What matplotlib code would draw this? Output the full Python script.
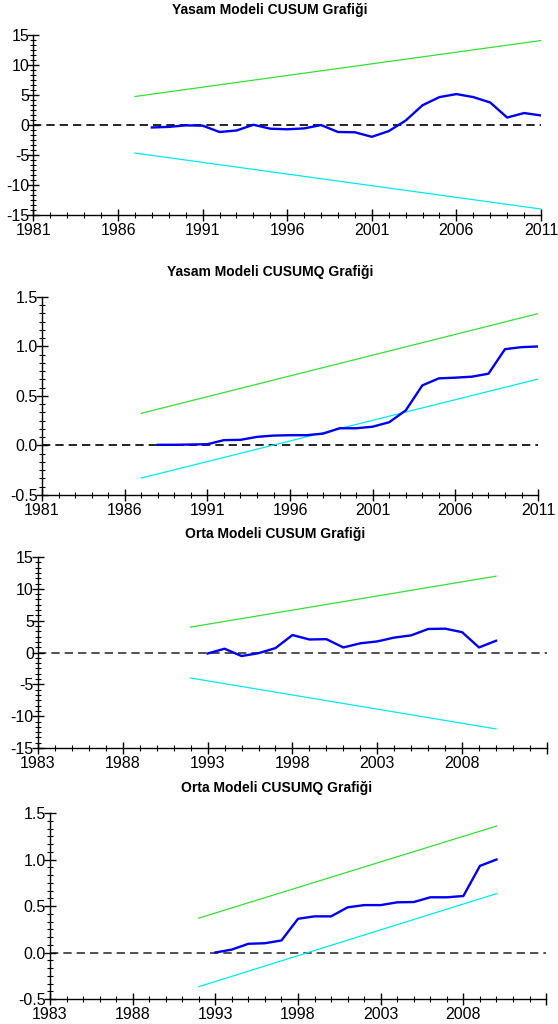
import matplotlib
matplotlib.use("Agg")
import matplotlib.pyplot as plt
from matplotlib.ticker import MultipleLocator, AutoMinorLocator

plt.rcParams['font.family'] = ['Liberation Sans Narrow', 'Liberation Sans', 'DejaVu Sans']

# ---- data ----
yasam_years = list(range(1988, 2012))
yasam_cusum = [-0.45, -0.35, -0.1, -0.15, -1.2, -0.95, 0.0, -0.65, -0.75, -0.6, -0.05, -1.2,
               -1.25, -2.0, -1.05, 0.7, 3.25, 4.6, 5.1, 4.6, 3.7, 1.2, 1.95, 1.55]
yasam_cusumq = [0.007, 0.007, 0.01, 0.013, 0.054, 0.057, 0.087, 0.1, 0.104, 0.104, 0.12, 0.174,
                0.174, 0.19, 0.235, 0.355, 0.607, 0.678, 0.685, 0.695, 0.725, 0.973, 0.993, 1.0]
yasam_band_years = [1987, 2011]
yasam_cusum_up = [4.7, 14.0]
yasam_cusum_lo = [-4.7, -14.0]
yasam_cusumq_up = [0.325, 1.332]
yasam_cusumq_lo = [-0.329, 0.671]

orta_years = list(range(1993, 2011))
orta_cusum = [-0.15, 0.6, -0.55, -0.1, 0.7, 2.75, 2.05, 2.1, 0.8, 1.45, 1.75, 2.35, 2.7,
              3.7, 3.75, 3.2, 0.8, 1.85]
orta_cusumq = [0.0, 0.032, 0.094, 0.1, 0.13, 0.363, 0.389, 0.389, 0.486, 0.51, 0.51, 0.54,
               0.543, 0.594, 0.594, 0.608, 0.932, 1.0]
orta_band_years = [1992, 2010]
orta_cusum_up = [4.0, 12.0]
orta_cusum_lo = [-4.0, -12.0]
orta_cusumq_up = [0.37, 1.36]
orta_cusumq_lo = [-0.367, 0.633]

yasam_xticks = [1981, 1986, 1991, 1996, 2001, 2006, 2011]
yasam_xlabels = ['1981', '1986', '1991', '1996', '2001', '2006', '2011']
orta_xticks = [1983, 1988, 1993, 1998, 2003, 2008, 2013]
orta_xlabels = ['1983', '1988', '1993', '1998', '2003', '2008', '']

cusum_yticks = [-15, -10, -5, 0, 5, 10, 15]
cusum_ylabels = ['-15', '-10', '-5', '0', '5', '10', '15']
cusumq_yticks = [-0.5, 0.0, 0.5, 1.0, 1.5]
cusumq_ylabels = ['-0.5', '0.0', '0.5', '1.0', '1.5']

titles = ['Yasam Modeli CUSUM Grafiği', 'Yasam Modeli CUSUMQ Grafiği',
          'Orta Modeli CUSUM Grafiği', 'Orta Modeli CUSUMQ Grafiği']

BLUE = '#0000f0'
GREEN = '#33e033'
CYAN = '#00eaf0'

fig = plt.figure(figsize=(5.58, 10.24), dpi=100)


def panel(rect, years, vals, byears, up, lo, xlim, xticks, xlabels, yticks, ylabels, dash_col):
    ax = fig.add_axes(rect)
    ax.axhline(0, color=dash_col, lw=1.2, ls=(0, (5, 3)), zorder=1)
    ax.plot(byears, up, color=GREEN, lw=0.9, zorder=2)
    ax.plot(byears, lo, color=CYAN, lw=0.9, zorder=2)
    ax.plot(years, vals, color=BLUE, lw=1.7, zorder=3)
    ax.set_xlim(*xlim)
    ax.set_ylim(yticks[0], yticks[-1])
    ax.set_xticks(xticks)
    ax.set_xticklabels(xlabels)
    ax.set_yticks(yticks)
    ax.set_yticklabels(ylabels)
    ax.xaxis.set_minor_locator(MultipleLocator(1))
    ax.yaxis.set_minor_locator(AutoMinorLocator(6))
    for s in ['top', 'right']:
        ax.spines[s].set_visible(False)
    for s in ['left', 'bottom']:
        ax.spines[s].set_linewidth(1.0)
    ax.tick_params(which='major', direction='inout', length=8, width=1.0, labelsize=11.5)
    ax.tick_params(which='minor', direction='inout', length=4, width=0.8)
    ax.tick_params(axis='x', which='major', pad=1.5)
    ax.tick_params(axis='y', which='major', pad=-1)
    return ax


panel([0.060, 0.790, 0.9095, 0.1763], yasam_years, yasam_cusum, yasam_band_years,
      yasam_cusum_up, yasam_cusum_lo, (1981, 2011), yasam_xticks, yasam_xlabels,
      cusum_yticks, cusum_ylabels, 'black')
panel([0.0753, 0.5166, 0.889, 0.1934], yasam_years, yasam_cusumq, yasam_band_years,
      yasam_cusumq_up, yasam_cusumq_lo, (1981, 2011), yasam_xticks, yasam_xlabels,
      cusumq_yticks, cusumq_ylabels, 'black')
panel([0.0681, 0.2695, 0.912, 0.1865], orta_years, orta_cusum, orta_band_years,
      orta_cusum_up, orta_cusum_lo, (1983, 2013), orta_xticks, orta_xlabels,
      cusum_yticks, cusum_ylabels, '#333333')
panel([0.0896, 0.0244, 0.889, 0.1816], orta_years, orta_cusumq, orta_band_years,
      orta_cusumq_up, orta_cusumq_lo, (1983, 2013), orta_xticks, orta_xlabels,
      cusumq_yticks, cusumq_ylabels, '#333333')

title_pos = [(0.484, 0.990), (0.484, 0.734), (0.493, 0.479), (0.496, 0.230)]
for t, (x, y) in zip(titles, title_pos):
    fig.text(x, y, t, ha='center', va='center', fontsize=10, fontweight='bold')

fig.savefig('out.png', dpi=100)
